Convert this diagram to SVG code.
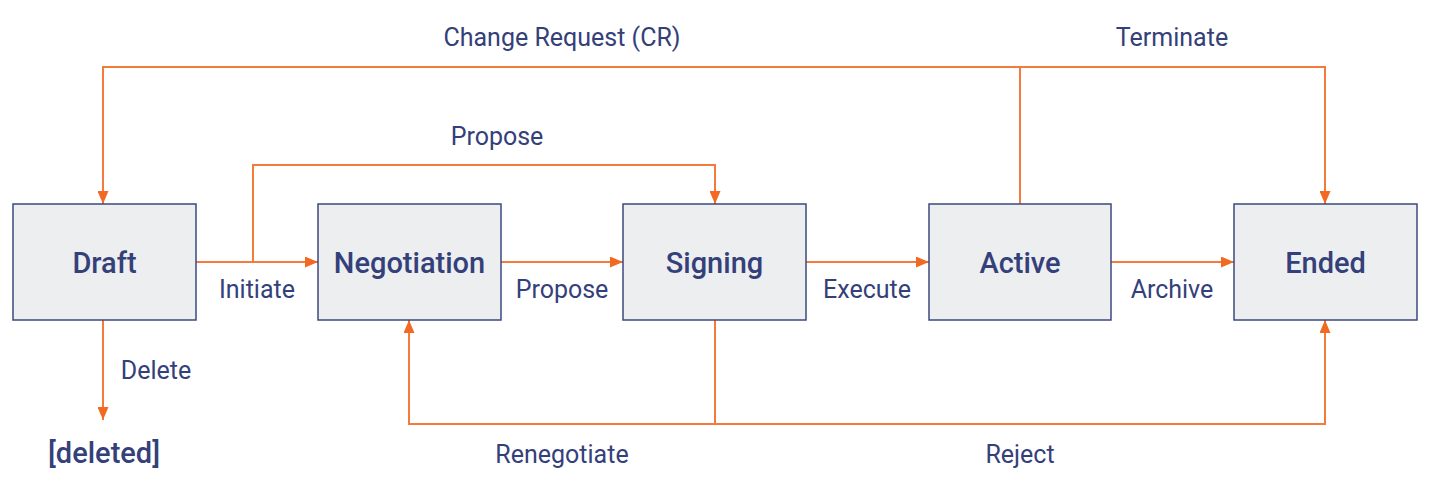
<svg xmlns="http://www.w3.org/2000/svg" width="1432" height="493" viewBox="0 0 1432 493">
<style>
.box{fill:#ECEEF0;stroke:#3D4A7C;stroke-width:1.5}
.nt{font-family:Roboto,"Liberation Sans",sans-serif;font-size:29px;font-weight:500;fill:#34407A;text-anchor:middle}
.lb{font-family:Roboto,"Liberation Sans",sans-serif;font-size:25px;fill:#34407A;text-anchor:middle}
.c{fill:none;stroke:#F47B3C;stroke-width:2}
</style>
<defs>
<marker id="ah" viewBox="0 0 13 11" refX="13" refY="5.5" markerWidth="13" markerHeight="11" markerUnits="userSpaceOnUse" orient="auto">
<path d="M0,0 L13,5.5 L0,11 z" fill="#F26A21"/>
</marker>
</defs>
<rect width="1432" height="493" fill="#FFFFFF"/>
<g id="connectors">
<path class="c" d="M196,262 H318" marker-end="url(#ah)"/>
<path class="c" d="M253,262 V165 H715 V204" marker-end="url(#ah)"/>
<path class="c" d="M501,262 H623" marker-end="url(#ah)"/>
<path class="c" d="M806,262 H929" marker-end="url(#ah)"/>
<path class="c" d="M1111,262 H1234" marker-end="url(#ah)"/>
<path class="c" d="M1020,204 V67 H103 V204" marker-end="url(#ah)"/>
<path class="c" d="M1020,67 H1325 V204" marker-end="url(#ah)"/>
<path class="c" d="M715,320 V424 H409 V320" marker-end="url(#ah)"/>
<path class="c" d="M715,424 H1325 V320" marker-end="url(#ah)"/>
<path class="c" d="M103,320 V420" marker-end="url(#ah)"/>
<text class="lb" x="257" y="298">Initiate</text>
<text class="lb" x="497" y="145">Propose</text>
<text class="lb" x="562" y="298">Propose</text>
<text class="lb" x="867" y="298">Execute</text>
<text class="lb" x="1172" y="298">Archive</text>
<text class="lb" x="562" y="46">Change Request (CR)</text>
<text class="lb" x="1172" y="46">Terminate</text>
<text class="lb" x="562" y="463">Renegotiate</text>
<text class="lb" x="1020" y="463">Reject</text>
<text class="lb" x="156" y="379">Delete</text>
</g>
<g id="draft"><rect class="box" x="13" y="204" width="183" height="116"/><text class="nt" x="104.5" y="273">Draft</text></g>
<g id="negotiation"><rect class="box" x="318" y="204" width="183" height="116"/><text class="nt" x="409.5" y="273">Negotiation</text></g>
<g id="signing"><rect class="box" x="623" y="204" width="183" height="116"/><text class="nt" x="714.5" y="273">Signing</text></g>
<g id="active"><rect class="box" x="929" y="204" width="182" height="116"/><text class="nt" x="1020" y="273">Active</text></g>
<g id="ended"><rect class="box" x="1234" y="204" width="183" height="116"/><text class="nt" x="1325.5" y="273">Ended</text></g>
<g id="deleted"><text class="nt" x="104" y="463">[deleted]</text></g>
</svg>
